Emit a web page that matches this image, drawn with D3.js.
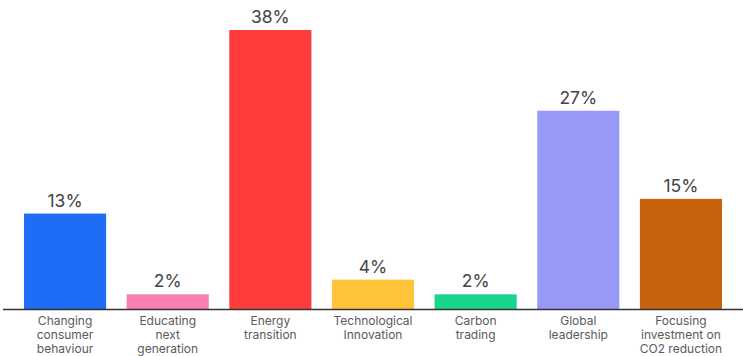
<!DOCTYPE html>
<html><head><meta charset="utf-8">
<script src="https://cdn.jsdelivr.net/npm/d3@7"></script>
<style>body{margin:0;background:#fff}svg{display:block}</style>
</head><body>
<script>
const categories = [
  ["Changing","consumer","behaviour"],
  ["Educating","next","generation"],
  ["Energy","transition"],
  ["Technological","Innovation"],
  ["Carbon","trading"],
  ["Global","leadership"],
  ["Focusing","investment on","CO2 reduction"]
];
const values = [13, 2, 38, 4, 2, 27, 15];
const colors = ["#1f6cf6", "#f77fb2", "#ff3c3c", "#ffc43a", "#17d68c", "#9898f6", "#c8620c"];

const W = 743, H = 356;
const svg = d3.select("body").append("svg").attr("width", W).attr("height", H);
const baseY = 309;
const x = d3.scaleBand().domain(d3.range(values.length)).range([13.75, 732.25]).paddingInner(0.2).paddingOuter(0.1);
const y = d3.scaleLinear().domain([0, 38]).range([baseY, 30]);

svg.selectAll("rect.bar").data(values).join("rect")
  .attr("class","bar")
  .attr("x", (d,i) => x(i))
  .attr("y", d => y(d))
  .attr("width", x.bandwidth())
  .attr("height", d => baseY - y(d))
  .attr("fill", (d,i) => colors[i]);

svg.selectAll("text.val").data(values).join("text")
  .attr("class","val")
  .attr("x", (d,i) => x(i) + x.bandwidth()/2)
  .attr("y", d => y(d) - 7)
  .attr("text-anchor","middle")
  .attr("font-family","Inter, 'Open Sans', sans-serif")
  .attr("font-size", 17.5)
  .attr("fill","#454545")
  .text(d => d + "%");

svg.append("line").attr("x1", 3).attr("x2", W).attr("y1", baseY + 0.5).attr("y2", baseY + 0.5)
  .attr("stroke","#333").attr("stroke-width",1.5);

const lab = svg.selectAll("text.cat").data(categories).join("text")
  .attr("class","cat")
  .attr("text-anchor","middle")
  .attr("font-family","Inter, 'Open Sans', sans-serif")
  .attr("font-size", 12)
  .attr("fill","#5a5a5a");
lab.each(function(lines, i) {
  d3.select(this).selectAll("tspan").data(lines).join("tspan")
    .attr("x", x(i) + x.bandwidth()/2)
    .attr("y", (d,j) => 325 + j*14)
    .text(d => d);
});
</script>
</body></html>
